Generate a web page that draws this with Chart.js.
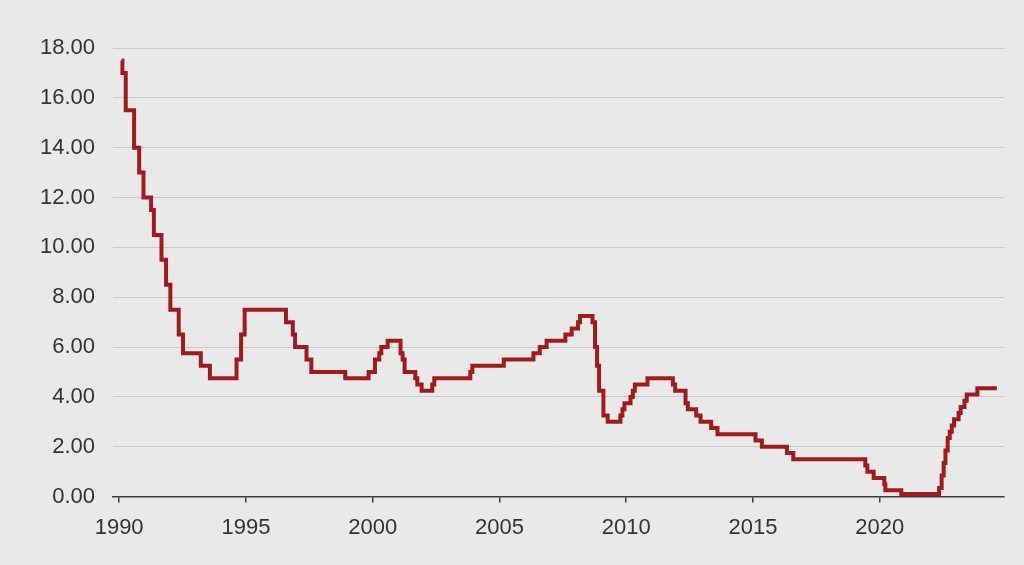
<!DOCTYPE html>
<html>
<head>
<meta charset="utf-8">
<script src="https://cdn.jsdelivr.net/npm/chart.js@4.4.1/dist/chart.umd.min.js"></script>
<style>
    html, body { margin: 0; padding: 0; background: #e9e9e9; }
    #rateChart { display: block; }
</style>
</head>
<body>
<canvas id="rateChart" width="1024" height="565"></canvas>
<script>
// ===== DATA =====
// dates (decimal years) at which the rate changed, and the new rate
const changeDates = [
    1990.10, 1990.13, 1990.26, 1990.59, 1990.79, 1990.96,
    1991.26, 1991.37, 1991.67, 1991.85, 1992.02, 1992.35, 1992.52,
    1993.22, 1993.58, 1994.63, 1994.81, 1994.95,
    1996.58, 1996.85, 1996.94, 1997.39, 1997.58, 1998.92,
    1999.84, 2000.09, 2000.26, 2000.34, 2000.59,
    2001.10, 2001.18, 2001.26, 2001.68, 2001.76, 2001.93,
    2002.35, 2002.43, 2003.85, 2003.93, 2005.17,
    2006.34, 2006.59, 2006.86, 2007.60, 2007.85, 2008.10, 2008.18,
    2008.67, 2008.77, 2008.85, 2008.93, 2009.10, 2009.27,
    2009.77, 2009.85, 2009.93, 2010.17, 2010.26, 2010.34, 2010.84,
    2011.84, 2011.93, 2012.34, 2012.43, 2012.76, 2012.93,
    2013.35, 2013.60, 2015.10, 2015.35, 2016.34, 2016.59,
    2019.43, 2019.51, 2019.76, 2020.18, 2020.22, 2020.85,
    2022.34, 2022.44, 2022.52, 2022.59, 2022.68, 2022.76, 2022.84, 2022.93,
    2023.11, 2023.19, 2023.34, 2023.43, 2023.85, 2024.62
];
const cashRate = [
    17.50, 17.00, 15.50, 14.00, 13.00, 12.00,
    11.50, 10.50, 9.50, 8.50, 7.50, 6.50, 5.75,
    5.25, 4.75, 5.50, 6.50, 7.50,
    7.00, 6.50, 6.00, 5.50, 5.00, 4.75,
    5.00, 5.50, 5.75, 6.00, 6.25,
    5.75, 5.50, 5.00, 4.75, 4.50, 4.25,
    4.50, 4.75, 5.00, 5.25, 5.50,
    5.75, 6.00, 6.25, 6.50, 6.75, 7.00, 7.25,
    7.00, 6.00, 5.25, 4.25, 3.25, 3.00,
    3.25, 3.50, 3.75, 4.00, 4.25, 4.50, 4.75,
    4.50, 4.25, 3.75, 3.50, 3.25, 3.00,
    2.75, 2.50, 2.25, 2.00, 1.75, 1.50,
    1.25, 1.00, 0.75, 0.50, 0.25, 0.10,
    0.35, 0.85, 1.35, 1.85, 2.35, 2.60, 2.85, 3.10,
    3.35, 3.60, 3.85, 4.10, 4.35, 4.35
];
const yearTicks = [1990, 1995, 2000, 2005, 2010, 2015, 2020];
const rateTicks = [0, 2, 4, 6, 8, 10, 12, 14, 16, 18];

// ===== CHART =====
const textColor = '#333333';
const gridColor = '#c9c9c9';
const axisColor = '#3a3a3a';
const labelFont = { family: 'Liberation Sans, Arial, sans-serif', size: 22 };

const points = changeDates.map((d, i) => ({ x: d, y: cashRate[i] }));

new Chart(document.getElementById('rateChart'), {
    type: 'line',
    data: {
        datasets: [{
            data: points,
            borderColor: '#a11b1e',
            borderWidth: 4,
            stepped: true,
            pointRadius: 0,
            fill: false
        }]
    },
    options: {
        responsive: false,
        animation: false,
        layout: {
            padding: { top: 48, right: 20, bottom: 12, left: 22 }
        },
        plugins: {
            legend: { display: false },
            tooltip: { enabled: false }
        },
        scales: {
            x: {
                type: 'linear',
                min: 1989.76,
                max: 2024.9,
                afterBuildTicks: (scale) => {
                    scale.ticks = yearTicks.map(v => ({ value: v }));
                },
                ticks: {
                    color: textColor,
                    font: labelFont,
                    padding: 12,
                    maxRotation: 0,
                    callback: (v) => String(v)
                },
                grid: {
                    drawOnChartArea: false,
                    drawTicks: true,
                    tickLength: 6,
                    color: axisColor,
                    lineWidth: 1.5
                },
                border: { display: true, color: axisColor, width: 1.5 }
            },
            y: {
                min: 0,
                max: 18,
                afterBuildTicks: (scale) => {
                    scale.ticks = rateTicks.map(v => ({ value: v }));
                },
                ticks: {
                    color: textColor,
                    font: labelFont,
                    padding: 18,
                    callback: (v) => Number(v).toFixed(2)
                },
                grid: {
                    color: gridColor,
                    lineWidth: 1,
                    drawTicks: false
                },
                border: { display: false }
            }
        }
    }
});
</script>
</body>
</html>
